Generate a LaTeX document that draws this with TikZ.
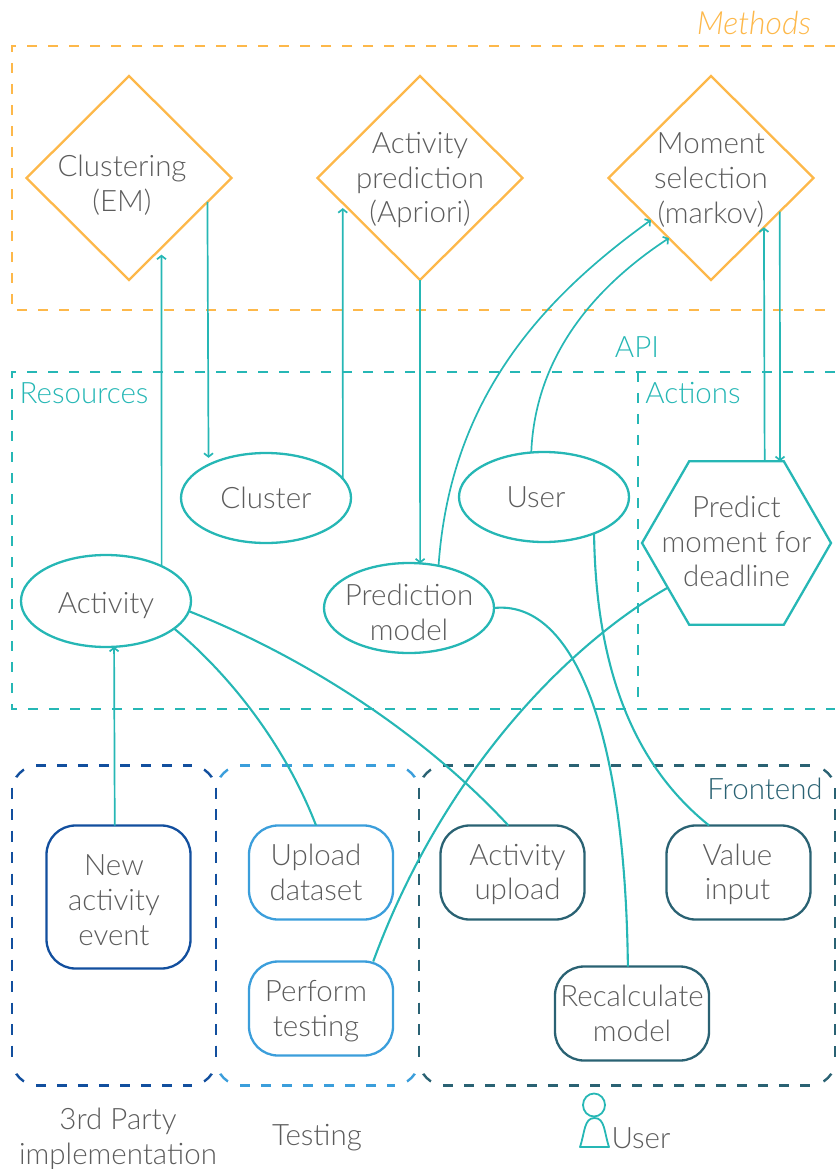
\documentclass[tikz,border=0pt]{standalone}
\usepackage{fontspec}
\setmainfont{Lato Light}
\usetikzlibrary{shapes.geometric,arrows.meta}
\definecolor{teal1}{HTML}{26B7B5}
\definecolor{orange1}{HTML}{FDB84A}
\definecolor{gray1}{HTML}{5C5C5C}
\definecolor{blue1}{HTML}{124F9E}
\definecolor{blue2}{HTML}{3B9EDB}
\definecolor{blue3}{HTML}{2A6273}
\tikzset{
  lab/.style={text=gray1,align=center,inner sep=0pt,font=\fontsize{29.5}{34.7}\selectfont},
  dia/.style={diamond,draw=orange1,line width=2.3pt,aspect=1,inner sep=0pt,outer sep=0pt,minimum width=205pt,minimum height=204pt},
  ell/.style={ellipse,draw=teal1,line width=2.3pt,inner sep=0pt,outer sep=0pt,minimum width=170pt,minimum height=90pt},
  hex/.style={regular polygon,regular polygon sides=6,draw=teal1,line width=2.3pt,inner sep=0pt,outer sep=0pt,minimum size=189pt},
  rbox/.style={rectangle,rounded corners=29pt,line width=2.3pt,inner sep=0pt,outer sep=0pt,minimum width=144pt,minimum height=94pt},
  grp/.style={rectangle,inner sep=0pt,outer sep=0pt,minimum height=320pt},
  framepath/.style={dash pattern=on 10pt off 11pt,line width=2.4pt},
  sidepath/.style={dash pattern=on 11pt off 10.5pt,line width=2.4pt},
  cornerpath/.style={dash pattern=on 0pt off 15pt on 11pt off 15pt,line width=2.4pt},
  conn/.style={draw=teal1,line width=2.1pt},
  arr/.style={draw=teal1,line width=1.7pt,-{Straight Barb[length=3.5pt,width=9pt]}},
  captxt/.style={inner sep=0pt,font=\fontsize{29.5}{34.7}\selectfont}
}
\newcommand\grpframe[2]{%
  \draw[framepath,#2] ([xshift=24pt]#1.north west) -- ([xshift=-24pt]#1.north east);
  \draw[framepath,#2] ([xshift=24pt]#1.south west) -- ([xshift=-24pt]#1.south east);
  \draw[sidepath,#2] ([yshift=-22pt]#1.north west) -- ([yshift=22pt]#1.south west);
  \draw[sidepath,#2] ([yshift=-22pt]#1.north east) -- ([yshift=22pt]#1.south east);
  \draw[cornerpath,#2] ([yshift=-26pt]#1.north west) .. controls ([yshift=-11.6pt]#1.north west) and ([xshift=11.6pt]#1.north west) .. ([xshift=26pt]#1.north west);
  \draw[cornerpath,#2] ([yshift=-26pt]#1.north east) .. controls ([yshift=-11.6pt]#1.north east) and ([xshift=-11.6pt]#1.north east) .. ([xshift=-26pt]#1.north east);
  \draw[cornerpath,#2] ([yshift=26pt]#1.south west) .. controls ([yshift=11.6pt]#1.south west) and ([xshift=11.6pt]#1.south west) .. ([xshift=26pt]#1.south west);
  \draw[cornerpath,#2] ([yshift=26pt]#1.south east) .. controls ([yshift=11.6pt]#1.south east) and ([xshift=-11.6pt]#1.south east) .. ([xshift=-26pt]#1.south east);
}
\begin{document}
\begin{tikzpicture}[x=1pt,y=-1pt]
\useasboundingbox (0,0) rectangle (835,1169);
% frames
\coordinate (mtl) at (835,46); \coordinate (mbl) at (835,310);
\draw[framepath,orange1] (mtl) -- (12,46) -- (12,310) -- (mbl);
\coordinate (rtl) at (835,372); \coordinate (rbl) at (835,709);
\draw[framepath,teal1] (rtl) -- (12,372) -- (12,709) -- (rbl);
\coordinate (atop) at (638,372); \coordinate (abot) at (638,709);
\draw[framepath,teal1] (atop) -- (abot);
\node[captxt,text=orange1,font=\fontsize{32}{36}\selectfont\itshape] (tmethods) at (754,23) {Methods};
\node[captxt,text=teal1] (tapi) at (637,347) {API};
\node[captxt,text=teal1] (tres) at (84,393) {Resources};
\node[captxt,text=teal1] (tact) at (693,393) {Actions};
% groups
\node[grp,minimum width=204pt] (g1) at (114,925.5) {};
\node[grp,minimum width=203pt] (g2) at (317.5,925.5) {};
\node[grp,minimum width=416.5pt] (g3) at (627.25,925.5) {};
\grpframe{g2}{blue2}
\grpframe{g1}{blue1}
\grpframe{g3}{blue3}
\node[captxt,text=blue3] (tfront) at (765,789) {Frontend};
% diamonds
\node[dia,label={[lab,xshift=-7pt,yshift=-7.5pt]center:Clustering\\(EM)}] (d1) at (129,178) {};
\node[dia,label={[lab,yshift=-2pt]center:Activity\\prediction\\(Apriori)}] (d2) at (420,178) {};
\node[dia,label={[lab,yshift=-2pt]center:Moment\\selection\\(markov)}] (d3) at (711,178) {};
% ellipses
\node[ell,label={[lab]center:Cluster}] (cl) at (266,498) {};
\node[ell,label={[lab,xshift=-8pt]center:User}] (us) at (544,497) {};
\node[ell,minimum height=92pt,label={[lab,yshift=-4pt]center:Activity}] (ac) at (106,601) {};
\node[ell,label={[lab,yshift=-4.5pt]center:Prediction\\model}] (pm) at (409,608) {};
\node[hex,label={[lab,yshift=1.5pt]center:Predict\\moment for\\deadline}] (hx) at (736.5,543) {};
% round boxes
\node[rbox,draw=blue1,minimum height=143pt,label={[lab,xshift=-4.5pt,yshift=-3pt]center:New\\activity\\event}] (nae) at (118.5,897) {};
\node[rbox,draw=blue2,label={[lab,xshift=-5pt]center:Upload\\dataset}] (upd) at (321,872.5) {};
\node[rbox,draw=blue2,label={[lab,xshift=-5pt,yshift=-3pt]center:Perform\\testing}] (pet) at (321,1008.5) {};
\node[rbox,draw=blue3,label={[lab,xshift=5pt,yshift=-2pt]center:Activity\\upload}] (acu) at (512.5,872.5) {};
\node[rbox,draw=blue3,label={[lab,xshift=-1pt,yshift=-2pt]center:Value\\input}] (val) at (738.5,872.5) {};
\node[rbox,draw=blue3,minimum width=154pt,label={[lab]center:Recalculate\\model}] (rec) at (632,1013.5) {};
% connectors
\draw[arr,shorten >=7pt] (ac.32.5) -- (d1.-65.4);
\draw[arr,shorten >=7pt] (d1.-17) -- (cl.150.9);
\draw[arr,shorten >=5pt] (cl.14.4) -- (d2.-162);
\draw[arr] (d2.south) -- (pm.76.8);
\draw[arr] (pm.55.6) .. controls (450,400) and (540,300) .. (d3.-145.7);
\draw[arr] (us.106) .. controls (535,360) and (590,290) .. (d3.-125.6);
\draw[arr] (hx.71.5) -- (d3.-43.3);
\draw[arr] (d3.-26) -- (hx.62);
\draw[conn] (us.-36) .. controls (596,680) and (640,770) .. (val.122.4);
\draw[conn] (pm.east) .. controls (570,600) and (625,720) .. (rec.95);
\draw[conn] (hx.-147) .. controls (560,650) and (440,780) .. (pet.42.3);
\draw[conn] (ac.-7) .. controls (300,655) and (420,730) .. (acu.95.5);
\draw[conn] (ac.-22) .. controls (230,675) and (285,745) .. (upd.96);
\draw[arr] (nae.93.6) -- (ac.-80);
% bottom labels
\node[lab] (t3p) at (118,1139) {3rd Party\\implementation};
\node[lab] (ttest) at (317,1138) {Testing};
\node[ellipse,draw=teal1,line width=1.8pt,inner sep=0pt,minimum width=22pt,minimum height=23pt] (uhead) at (594,1105) {};
\draw[teal1,line width=1.8pt,line join=round] (580,1147) .. controls (585,1132) and (584,1118) .. (594.5,1118) .. controls (605,1118) and (604,1132) .. (609,1147) -- cycle;
\node[lab] (tuser) at (641,1138) {User};
\end{tikzpicture}
\end{document}
